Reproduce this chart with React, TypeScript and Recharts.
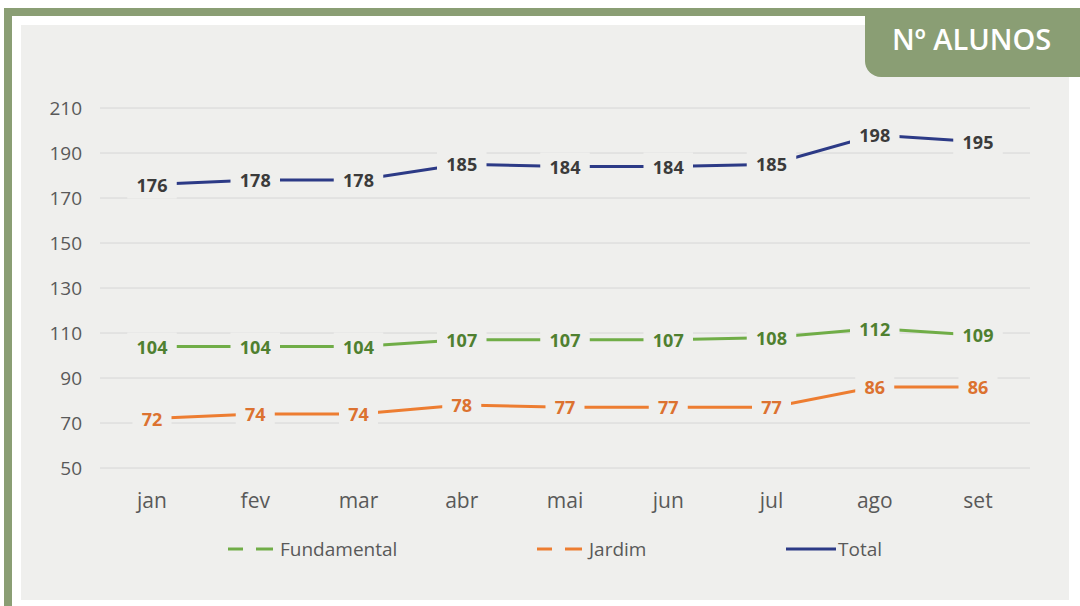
import React from "react";
import {
  LineChart,
  Line,
  XAxis,
  YAxis,
  CartesianGrid,
  Legend,
  LabelList,
} from "recharts";

const months = ["jan", "fev", "mar", "abr", "mai", "jun", "jul", "ago", "set"];
const fundamental = [104, 104, 104, 107, 107, 107, 108, 112, 109];
const jardim = [72, 74, 74, 78, 77, 77, 77, 86, 86];
const total = [176, 178, 178, 185, 184, 184, 185, 198, 195];
const yTicks = [50, 70, 90, 110, 130, 150, 170, 190, 210];
const seriesNames = ["Fundamental", "Jardim", "Total"];

const data = months.map((month, i) => ({
  month,
  Fundamental: fundamental[i],
  Jardim: jardim[i],
  Total: total[i],
}));

const GREEN_FRAME = "#8a9e74";
const PANEL = "#efefed";
const FONT = "'Open Sans', 'Noto Sans', sans-serif";

const lineColors: Record<string, string> = {
  Fundamental: "#70ad47",
  Jardim: "#ed7d31",
  Total: "#2c3a86",
};
const labelColors: Record<string, string> = {
  Fundamental: "#4f8030",
  Jardim: "#dc7230",
  Total: "#3b3b3b",
};
const legendLeft = [226, 535, 786];

const makeLabel = (color: string) => (props: any) => {
  const { x, y, value } = props;
  const text = String(value);
  const w = text.length * 10.5 + 18;
  return (
    <g>
      <rect x={x - w / 2} y={y - 14} width={w} height={28} fill={PANEL} />
      <text
        x={x}
        y={y}
        textAnchor="middle"
        dominantBaseline="central"
        fill={color}
        fontSize={18}
        fontWeight={700}
        fontFamily={FONT}
      >
        {text}
      </text>
    </g>
  );
};

const renderLegend = () => (
  <div style={{ position: "relative", height: 28, width: 1080 }}>
    {seriesNames.map((name, i) => {
      const dashed = name !== "Total";
      return (
        <div
          key={name}
          style={{
            position: "absolute",
            left: legendLeft[i],
            top: 0,
            height: 28,
            display: "flex",
            alignItems: "center",
          }}
        >
          <svg width={50} height={10}>
            {dashed ? (
              <>
                <line x1={2} y1={5} x2={17} y2={5} stroke={lineColors[name]} strokeWidth={3} />
                <line x1={30} y1={5} x2={47} y2={5} stroke={lineColors[name]} strokeWidth={3} />
              </>
            ) : (
              <line x1={0} y1={5} x2={50} y2={5} stroke={lineColors[name]} strokeWidth={3} />
            )}
          </svg>
          <span
            style={{
              marginLeft: dashed ? 4 : 2,
              fontFamily: FONT,
              fontSize: 19,
              color: "#595959",
            }}
          >
            {name}
          </span>
        </div>
      );
    })}
  </div>
);

const App = () => {
  return (
    <div
      style={{
        position: "absolute",
        left: 0,
        top: 0,
        width: 1080,
        height: 606,
        background: "#fff",
        overflow: "hidden",
      }}
    >
      <div style={{ position: "absolute", left: 4, top: 8, width: 1076, height: 598, background: GREEN_FRAME }} />
      <div style={{ position: "absolute", left: 12, top: 16, width: 1068, height: 590, background: "#fff" }} />
      <div style={{ position: "absolute", left: 21, top: 25, width: 1048, height: 575, background: PANEL }} />
      <div
        style={{
          position: "absolute",
          left: 865,
          top: 8,
          width: 215,
          height: 69,
          background: GREEN_FRAME,
          borderBottomLeftRadius: 16,
        }}
      />
      <div
        style={{
          position: "absolute",
          left: 892,
          top: 18,
          fontFamily: FONT,
          fontSize: 29,
          lineHeight: "41px",
          fontWeight: 600,
          color: "#fff",
          whiteSpace: "nowrap",
        }}
      >
        Nº ALUNOS
      </div>
      <div style={{ position: "absolute", left: 0, top: 0 }}>
        <LineChart
          width={1080}
          height={606}
          data={data}
          margin={{ top: 108, right: 50, bottom: 98, left: 40 }}
        >
          <CartesianGrid vertical={false} stroke="#d6d6d6" />
          <XAxis
            dataKey="month"
            height={40}
            padding={{ left: 52, right: 52 }}
            axisLine={false}
            tickLine={false}
            tickSize={0}
            tickMargin={25}
            tick={{ fill: "#595959", fontSize: 21, fontFamily: FONT }}
          />
          <YAxis
            width={60}
            domain={[50, 210]}
            ticks={yTicks}
            axisLine={false}
            tickLine={false}
            tickSize={0}
            tickMargin={18}
            tick={{ fill: "#595959", fontSize: 19, fontFamily: FONT }}
          />
          <Legend
            verticalAlign="middle"
            align="center"
            layout="horizontal"
            wrapperStyle={{ top: 535, left: 0, width: 1080 }}
            content={renderLegend}
          />
          {seriesNames.map((name) => (
            <Line
              key={name}
              type="linear"
              dataKey={name}
              stroke={lineColors[name]}
              strokeWidth={3}
              dot={false}
              activeDot={false}
              isAnimationActive={false}
            >
              <LabelList dataKey={name} content={makeLabel(labelColors[name])} />
            </Line>
          ))}
        </LineChart>
      </div>
    </div>
  );
};

export default App;
